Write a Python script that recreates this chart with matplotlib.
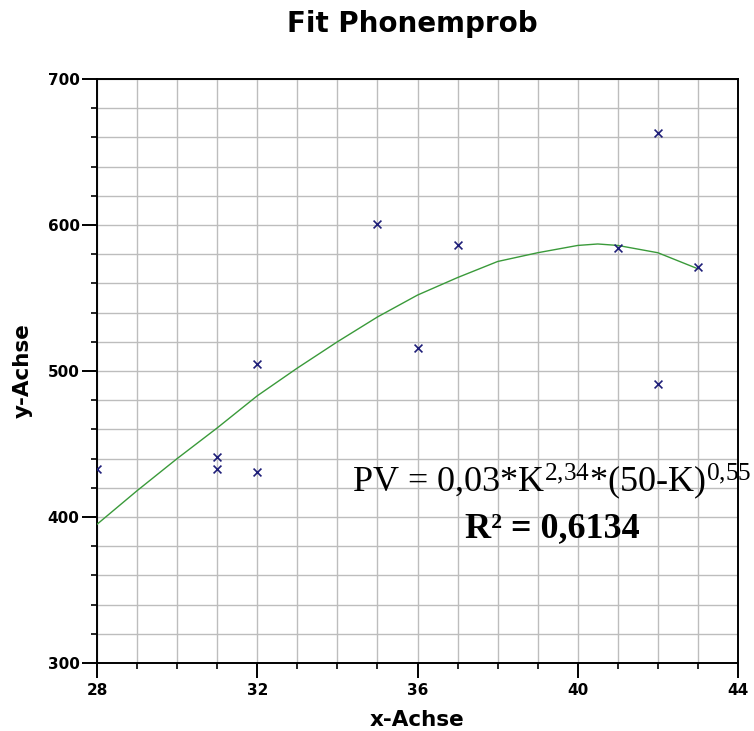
import matplotlib
matplotlib.use("Agg")
import matplotlib.pyplot as plt
from matplotlib.ticker import MultipleLocator

plt.rcParams['mathtext.fontset'] = 'custom'
plt.rcParams['mathtext.rm'] = 'Liberation Serif'
plt.rcParams['mathtext.it'] = 'Liberation Serif:italic'
plt.rcParams['mathtext.bf'] = 'Liberation Serif:bold'

# Data
x_points = [28, 31, 31, 32, 32, 35, 36, 37, 41, 42, 42, 43]
y_points = [433, 441, 433, 505, 431, 601, 516, 586, 584, 663, 491, 571]

fit_x = [28, 29, 30, 31, 32, 33, 34, 35, 36, 37, 38, 39, 40, 40.5, 41, 42, 43]
fit_y = [395, 418, 440, 461, 483, 502, 520, 537, 552, 564, 575, 581, 586, 587, 586, 581, 570]

title = "Fit Phonemprob"
xlabel = "x-Achse"
ylabel = "y-Achse"

SANS = 'DejaVu Sans'

fig = plt.figure(figsize=(7.54, 7.31), dpi=100)
ax = fig.add_axes([97/754, 1-663/731, (738-97)/754, (663-79)/731])

ax.set_xlim(28, 44)
ax.set_ylim(300, 700)
ax.xaxis.set_major_locator(MultipleLocator(4))
ax.xaxis.set_minor_locator(MultipleLocator(1))
ax.yaxis.set_major_locator(MultipleLocator(100))
ax.yaxis.set_minor_locator(MultipleLocator(20))
ax.grid(True, which='both', color='#bdbdbd', lw=1.0)
ax.set_axisbelow(True)

for s in ax.spines.values():
    s.set_linewidth(1.4)
    s.set_color('black')

ax.tick_params(which='major', length=11, width=1.4, direction='out')
ax.tick_params(which='minor', length=4.5, width=1.2, direction='out')
ax.tick_params(axis='x', which='major', pad=3.5)
ax.tick_params(axis='y', which='major', pad=1.5)
for lab in ax.get_xticklabels() + ax.get_yticklabels():
    lab.set_fontfamily(SANS)
    lab.set_fontweight('bold')
    lab.set_fontsize(11)

ax.plot(fit_x, fit_y, color='#3a9a3a', lw=1.0, zorder=3)
ax.scatter(x_points, y_points, marker='x', s=32, color='#1e1e78', linewidths=1.2, zorder=4)

fig.text(412/754, 1-32/731, title, ha='center', va='baseline',
         fontfamily=SANS, fontweight='bold', fontsize=20)
ax.set_xlabel(xlabel, fontfamily=SANS, fontweight='bold', fontsize=15.5, va='baseline')
ax.set_ylabel(ylabel, fontfamily=SANS, fontweight='bold', fontsize=15.5, va='baseline')
ax.xaxis.set_label_coords(0.5, (663-726)/584)
ax.yaxis.set_label_coords((29-97)/641, 0.5)

fig.text(352/754, 1-492/731, r"PV = 0,03*K$^{2{,}34}$*(50-K)$^{0{,}55}$",
         ha='left', va='baseline', fontfamily='Liberation Serif', fontsize=26)
fig.text(552/754, 1-537/731, r"R² = 0,6134", ha='center', va='baseline',
         fontfamily='Liberation Serif', fontweight='bold', fontsize=26)

fig.savefig("out.png", dpi=100)
